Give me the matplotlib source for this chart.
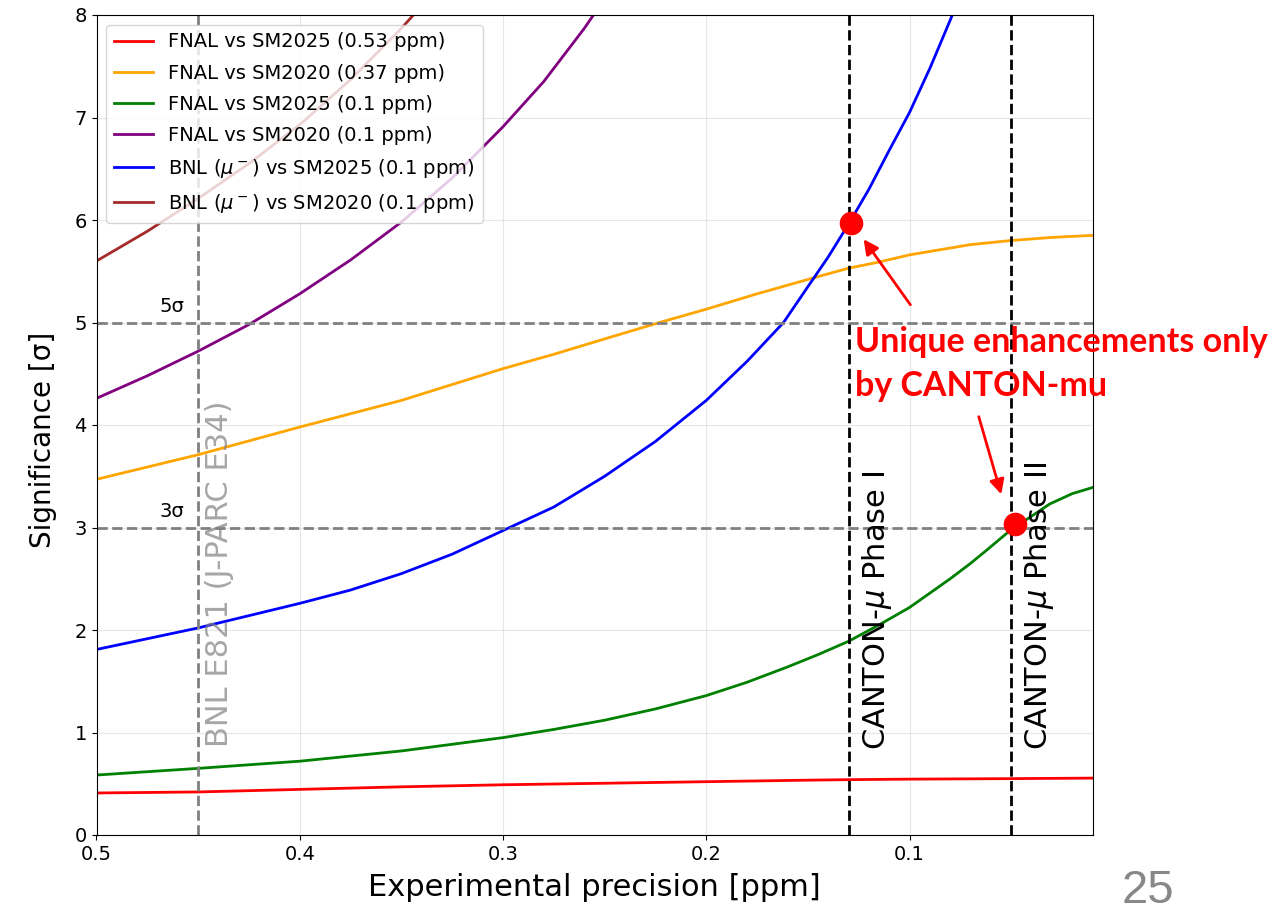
import matplotlib
matplotlib.use('Agg')
import matplotlib.pyplot as plt

# 读取的数据 (实验精度 [ppm] -> 显著性 [σ])
red_x = [0.5, 0.45, 0.4, 0.35, 0.3, 0.25, 0.2, 0.15, 0.13, 0.1, 0.05, 0.01]
red_y = [0.41, 0.42, 0.445, 0.47, 0.49, 0.505, 0.52, 0.535, 0.54, 0.545, 0.55, 0.555]

yellow_x = [0.5, 0.45, 0.4, 0.35, 0.3, 0.275, 0.25, 0.223, 0.2, 0.175, 0.15, 0.13,
            0.115, 0.1, 0.085, 0.07, 0.05, 0.03, 0.01]
yellow_y = [3.47, 3.71, 3.98, 4.24, 4.55, 4.69, 4.84, 5.0, 5.13, 5.28, 5.42, 5.53,
            5.59, 5.66, 5.71, 5.76, 5.80, 5.83, 5.85]

green_x = [0.5, 0.45, 0.4, 0.35, 0.3, 0.275, 0.25, 0.225, 0.2, 0.18, 0.16, 0.145,
           0.13, 0.115, 0.1, 0.09, 0.08, 0.07, 0.062, 0.05, 0.04, 0.031, 0.02, 0.01]
green_y = [0.585, 0.65, 0.72, 0.82, 0.95, 1.03, 1.12, 1.23, 1.36, 1.49, 1.64, 1.76,
           1.89, 2.05, 2.22, 2.36, 2.5, 2.65, 2.78, 2.98, 3.11, 3.23, 3.33, 3.39]

purple_x = [0.5, 0.475, 0.45, 0.425, 0.4, 0.375, 0.35, 0.325, 0.3, 0.28, 0.26, 0.25]
purple_y = [4.26, 4.48, 4.72, 4.98, 5.28, 5.61, 5.98, 6.41, 6.91, 7.35, 7.87, 8.16]

blue_x = [0.5, 0.45, 0.4, 0.375, 0.35, 0.325, 0.3, 0.275, 0.25, 0.225, 0.2, 0.18,
          0.162, 0.15, 0.14, 0.13, 0.12, 0.11, 0.1, 0.09, 0.08, 0.075]
blue_y = [1.81, 2.02, 2.26, 2.39, 2.55, 2.74, 2.97, 3.2, 3.5, 3.84, 4.24, 4.62,
          5.0, 5.35, 5.64, 5.96, 6.3, 6.68, 7.05, 7.48, 7.95, 8.2]

brown_x = [0.5, 0.475, 0.45, 0.425, 0.4, 0.375, 0.35, 0.335]
brown_y = [5.6, 5.89, 6.21, 6.55, 6.93, 7.37, 7.87, 8.2]

labels = ['FNAL vs SM2025 (0.53 ppm)', 'FNAL vs SM2020 (0.37 ppm)',
          'FNAL vs SM2025 (0.1 ppm)', 'FNAL vs SM2020 (0.1 ppm)',
          r'BNL ($\mu^-$) vs SM2025 (0.1 ppm)', r'BNL ($\mu^-$) vs SM2020 (0.1 ppm)']

sigma_levels = [5, 3]
bnl_precision = 0.45
canton_precision = [0.13, 0.05]
canton_labels = [r'CANTON-$\mu$ Phase I', r'CANTON-$\mu$ Phase II']
dot_x = [0.129, 0.048]
dot_y = [5.97, 3.03]

fig = plt.figure(figsize=(12.83, 9.11), dpi=100)
ax = fig.add_axes([96.5 / 1283, 76 / 911, 996 / 1283, 820 / 911])

# 曲线
ax.plot(red_x, red_y, color='red', lw=2, label=labels[0])
ax.plot(yellow_x, yellow_y, color='orange', lw=2, label=labels[1])
ax.plot(green_x, green_y, color='green', lw=2, label=labels[2])
ax.plot(purple_x, purple_y, color='purple', lw=2, label=labels[3])
ax.plot(blue_x, blue_y, color='blue', lw=2, label=labels[4])
ax.plot(brown_x, brown_y, color='brown', lw=2, label=labels[5])

# 参考线
for s in sigma_levels:
    ax.axhline(s, color='gray', linestyle='--', lw=2)
    ax.text(0.469, s + 0.1, f'{s}σ', fontsize=14, va='baseline')
ax.axvline(bnl_precision, color='gray', linestyle='--', lw=2)
ax.text(0.4466, 0.86, 'BNL E821 (J-PARC E34)', rotation=90, fontsize=22,
        color='gray', alpha=0.7, ha='left', va='bottom')
for p, lab in zip(canton_precision, canton_labels):
    ax.axvline(p, color='black', linestyle='--', lw=2)
    ax.text(p - 0.0054, 0.83, lab, rotation=90, fontsize=22, ha='left', va='bottom')

ax.plot(dot_x, dot_y, 'o', color='red', ms=16, zorder=6, clip_on=False)

# 坐标轴
ax.set_xlim(0.5, 0.01)
ax.set_ylim(0, 8)
ax.set_xticks([0.5, 0.4, 0.3, 0.2, 0.1])
ax.set_xticklabels(['0.5', '0.4', '0.3', '0.2', '0.1'])
ax.tick_params(labelsize=14)
ax.grid(True, alpha=0.3)
ax.set_xlabel('Experimental precision [ppm]', fontsize=22, labelpad=7)
ax.set_ylabel('Significance [σ]', fontsize=20)
ax.yaxis.set_label_coords(-0.04, 0.482)
ax.legend(loc='upper left', fontsize=14, labelspacing=0.62)

# 注释
fig.text(855 / 1283, 1 - 352 / 911, 'Unique enhancements only', color='red',
         fontsize=24.5, fontweight='bold', family='Lato', va='baseline')
fig.text(855 / 1283, 1 - 396 / 911, 'by CANTON-mu', color='red',
         fontsize=24.5, fontweight='bold', family='Lato', va='baseline')
ax.annotate('', xy=(862, 911 - 237), xytext=(912, 911 - 307), xycoords='figure pixels',
            arrowprops=dict(arrowstyle='-|>', color='red', lw=2, mutation_scale=22))
ax.annotate('', xy=(1002, 911 - 497), xytext=(978, 911 - 414), xycoords='figure pixels',
            arrowprops=dict(arrowstyle='-|>', color='red', lw=2, mutation_scale=22))

fig.text(1148 / 1283, 8 / 911, '25', fontsize=34, color='#888888',
         ha='center', va='baseline', family='Liberation Sans')

fig.savefig('out.png', dpi=100)
